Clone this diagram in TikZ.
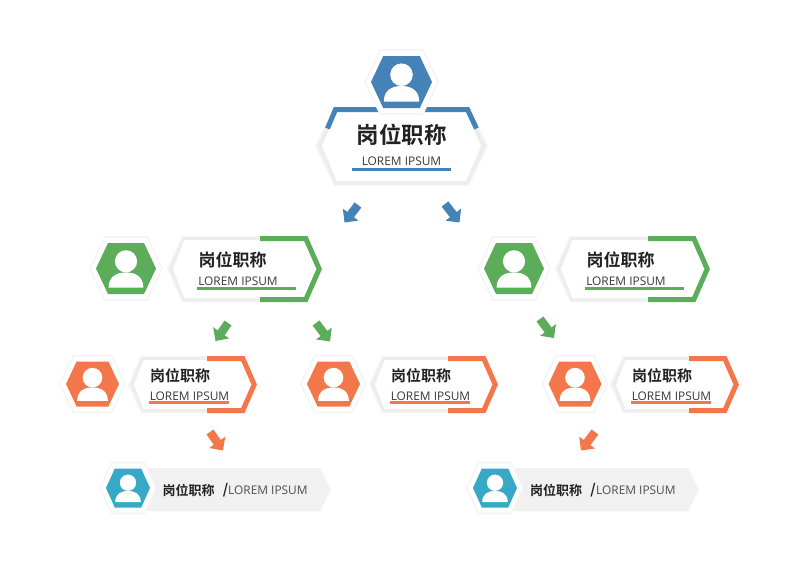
\documentclass[tikz,border=0pt]{standalone}
\usepackage{fontspec}
\usetikzlibrary{arrows.meta}
\setmainfont{Open Sans}
\newfontfamily\cjkb{Noto Sans CJK SC Bold}
\definecolor{cblue}{HTML}{4482B8}
\definecolor{cgreen}{HTML}{5CAD5A}
\definecolor{corange}{HTML}{F4774C}
\definecolor{cteal}{HTML}{37A9C7}
\definecolor{crim}{HTML}{EDEDED}
\definecolor{crimpale}{HTML}{F5F5F5}
\definecolor{cink}{HTML}{222222}
\definecolor{cpale}{HTML}{F1F1F1}
\tikzset{
  x=1pt,y=-1pt,
  flowarrow/.style={line width=8.5pt,-{Triangle[length=10pt,width=19pt]}},
  titletext/.style={inner sep=0pt,text=cink,font=\cjkb\fontsize{#1}{#1}\selectfont},
  subtext/.style={inner sep=0pt,text=cink!90,font=\fontsize{11.9}{12}\selectfont},
}
% centre x, centre y, inner half width, inner half height, colour
\newcommand{\iconhex}[5]{%
  \pgfmathsetmacro{\hw}{#3}\pgfmathsetmacro{\hh}{#4}\pgfmathsetmacro{\tw}{0.6*#3}%
  \filldraw[fill=white,draw=crimpale,line width=1.6pt]
    ({#1-\hw-6},#2)--({#1-\tw-3},{#2-\hh-6})--({#1+\tw+3},{#2-\hh-6})--({#1+\hw+6},#2)--({#1+\tw+3},{#2+\hh+6})--({#1-\tw-3},{#2+\hh+6})--cycle;
  \fill[#5] ({#1-\hw},#2)--({#1-\tw},{#2-\hh})--({#1+\tw},{#2-\hh})--({#1+\hw},#2)--({#1+\tw},{#2+\hh})--({#1-\tw},{#2+\hh})--cycle;
  \fill[white] (#1,{#2-0.24*\hw}) circle ({0.37*\hw});
  \fill[white] ({#1-0.58*\hw},{#2+0.64*\hw}) .. controls ({#1-0.58*\hw},{#2+0.26*\hw}) and ({#1-0.3*\hw},{#2+0.13*\hw}) .. (#1,{#2+0.13*\hw})
     .. controls ({#1+0.3*\hw},{#2+0.13*\hw}) and ({#1+0.58*\hw},{#2+0.26*\hw}) .. ({#1+0.58*\hw},{#2+0.64*\hw}) -- cycle;
}
% left, right, top, bottom, corner inset, colour-start x, colour
\newcommand{\labelbox}[7]{%
  \pgfmathsetmacro{\mm}{(#3+#4)/2}%
  \fill[crimpale] (#1,\mm)--({#1+#5},#3)--({#2-#5},#3)--(#2,\mm)--({#2-#5},#4)--({#1+#5},#4)--cycle;
  \fill[crim] ({#1+2},\mm)--({#1+#5+1},{#3+1})--({#2-#5-1},{#3+1})--({#2-2},\mm)--({#2-#5-1},{#4-1})--({#1+#5+1},{#4-1})--cycle;
  \fill[white] ({#1+6},\mm)--({#1+#5+2.5},{#3+4})--({#2-#5-2},{#3+4})--({#2-4.5},\mm)--({#2-#5-2},{#4-4})--({#1+#5+2.5},{#4-4})--cycle;
  \draw[#7,line width=5pt] (#6,{#3+2.5})--({#2-#5-1.2},{#3+2.5})--({#2-2.8},\mm)--({#2-#5-1.2},{#4-2.5})--(#6,{#4-2.5});
}
\begin{document}
\begin{tikzpicture}
\useasboundingbox (0,0) rectangle (800,566);
\fill[white] (0,0) rectangle (800,566);

% top box
\fill[crimpale] (315,146)--(334,107)--(469,107)--(488,146)--(469,185.5)--(334,185.5)--cycle;
\fill[crim] (317,146)--(335,108)--(468,108)--(486,146)--(468,184.5)--(335,184.5)--cycle;
\fill[white] (322,146)--(337,112)--(466,112)--(481,146)--(466,181)--(337,181)--cycle;
\draw[cblue,line width=5pt] (327.5,128.5)--(335.5,109.5)--(467.5,109.5)--(476.5,128.5);
\iconhex{401.5}{82}{30.5}{26}{cblue}
\node[titletext=22.5] (t0) at (401.5,135) {岗位职称};
\node[subtext] (s0) at (401.5,161) {LOREM IPSUM};
\draw[cblue,line width=2.6pt] (352,169.5)--(451,169.5);

% second row
\labelbox{167}{322}{236}{302}{15}{260}{cgreen}
\iconhex{126}{268.5}{30}{25.5}{cgreen}
\node[titletext=17] (t1) at (232.5,260) {岗位职称};
\node[subtext] (s1) at (238,281) {LOREM IPSUM};
\draw[cgreen,line width=2.6pt] (197,288.5)--(296,288.5);

\labelbox{555}{710}{236}{302}{15}{648}{cgreen}
\iconhex{514}{268.5}{30}{25.5}{cgreen}
\node[titletext=17] (t2) at (620.5,260) {岗位职称};
\node[subtext] (s2) at (626,281) {LOREM IPSUM};
\draw[cgreen,line width=2.6pt] (585,288.5)--(684,288.5);

% third row
\labelbox{128}{257}{356}{413}{13}{207}{corange}
\iconhex{92.5}{384}{26.5}{22.5}{corange}
\node[titletext=15] (t3) at (180,376) {岗位职称};
\node[subtext] (s3) at (189.5,396) {LOREM IPSUM};
\draw[corange,line width=2.4pt] (149,402.5)--(229,402.5);

\labelbox{369}{498}{356}{413}{13}{448}{corange}
\iconhex{333.5}{384}{26.5}{22.5}{corange}
\node[titletext=15] (t4) at (421,376) {岗位职称};
\node[subtext] (s4) at (430.5,396) {LOREM IPSUM};
\draw[corange,line width=2.4pt] (390,402.5)--(470,402.5);

\labelbox{610}{739}{356}{413}{13}{689}{corange}
\iconhex{575}{384}{26.5}{22.5}{corange}
\node[titletext=15] (t5) at (662,376) {岗位职称};
\node[subtext] (s5) at (671.5,396) {LOREM IPSUM};
\draw[corange,line width=2.4pt] (631,402.5)--(711,402.5);

% bottom row
\fill[cpale] (140,468)--(320,468)--(331,489.5)--(320,511)--(140,511)--cycle;
\iconhex{128}{488}{22}{19.5}{cteal}
\node[titletext=13] (t6) at (188.5,490) {岗位职称};
\node[titletext=14,anchor=center] (d6) at (225.5,490) {/};
\node[subtext,text=cink!80,anchor=west] (s6) at (228,490.5) {LOREM IPSUM};

\fill[cpale] (507,468)--(688,468)--(699,489.5)--(688,511)--(507,511)--cycle;
\iconhex{495}{488}{22}{19.5}{cteal}
\node[titletext=13] (t7) at (556,490) {岗位职称};
\node[titletext=14,anchor=center] (d7) at (593,490) {/};
\node[subtext,text=cink!80,anchor=west] (s7) at (596,490.5) {LOREM IPSUM};

% arrows
\coordinate (a0) at (358,205); \coordinate (b0) at (344.5,222.5);
\coordinate (a1) at (445,204); \coordinate (b1) at (459.5,222.5);
\coordinate (a2) at (228,323); \coordinate (b2) at (215.5,341);
\coordinate (a3) at (316,323); \coordinate (b3) at (330,341.5);
\coordinate (a4) at (540,319); \coordinate (b4) at (554,338);
\coordinate (a5) at (210,432); \coordinate (b5) at (223,450.5);
\coordinate (a6) at (595,432); \coordinate (b6) at (581,450.5);
\draw[flowarrow,cblue] (a0)--(b0);
\draw[flowarrow,cblue] (a1)--(b1);
\draw[flowarrow,cgreen] (a2)--(b2);
\draw[flowarrow,cgreen] (a3)--(b3);
\draw[flowarrow,cgreen] (a4)--(b4);
\draw[flowarrow,corange] (a5)--(b5);
\draw[flowarrow,corange] (a6)--(b6);
\end{tikzpicture}
\end{document}
